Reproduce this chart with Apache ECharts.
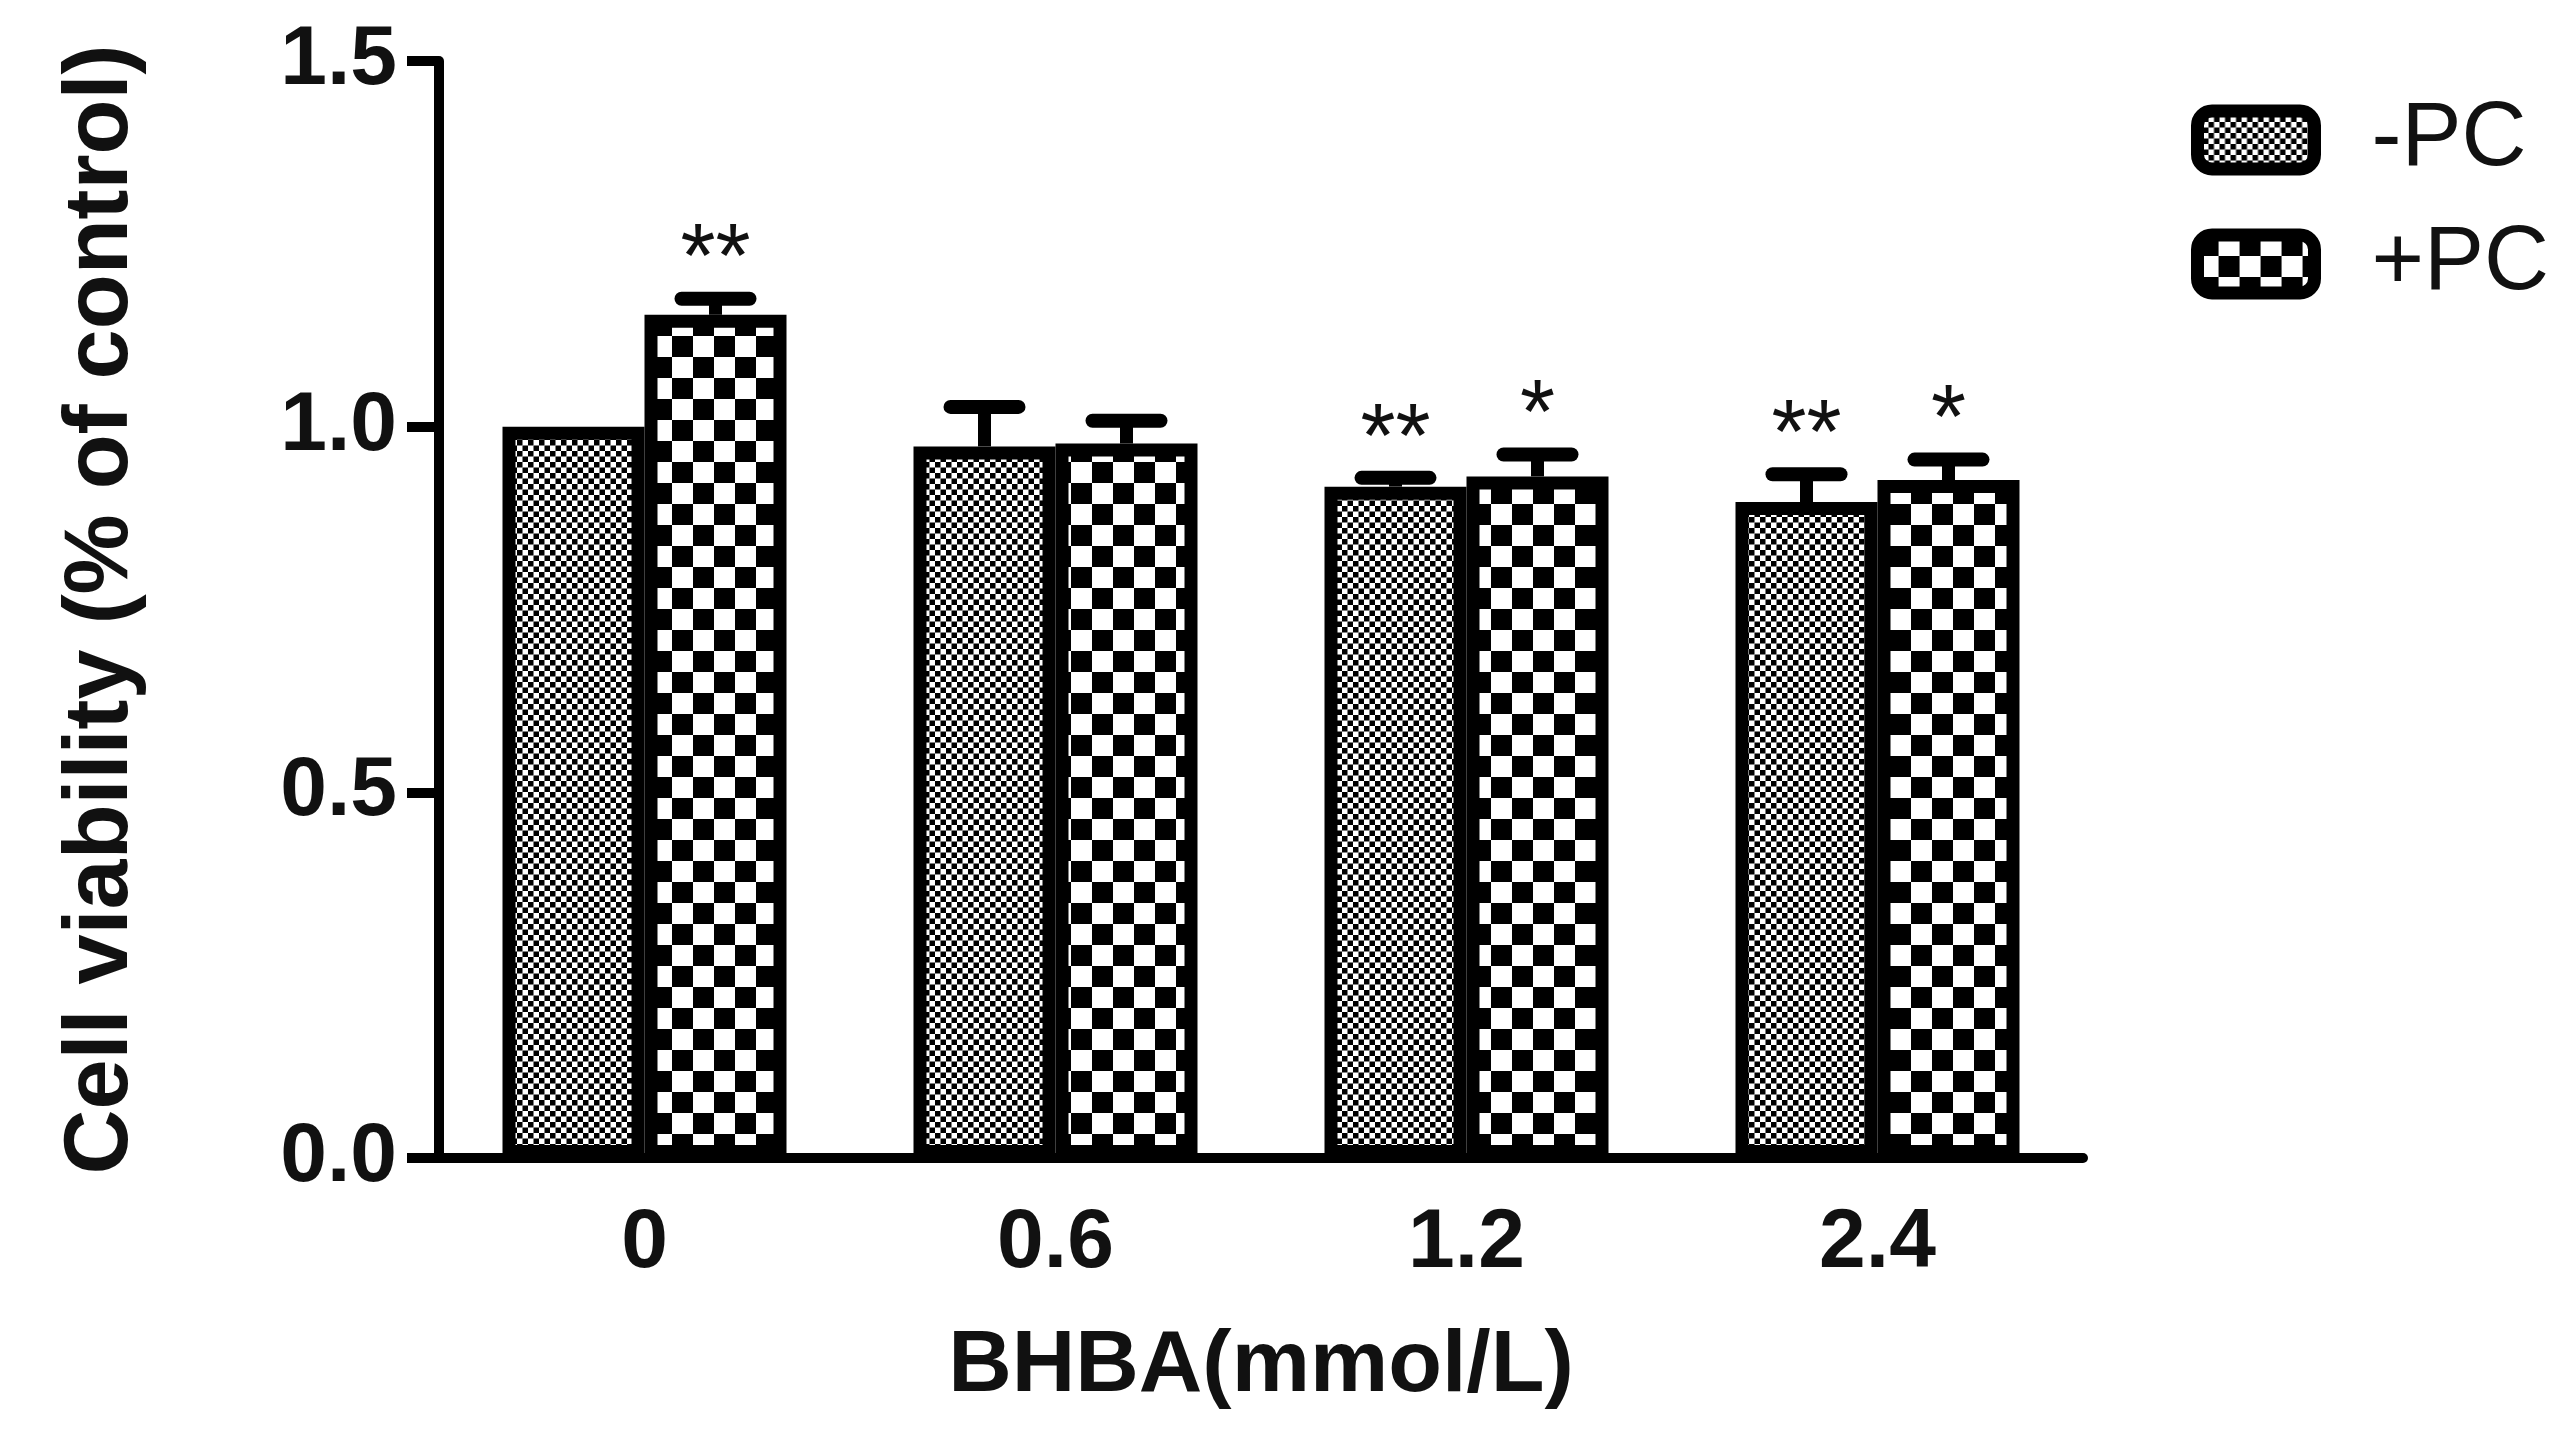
<!DOCTYPE html>
<html>
<head>
<meta charset="utf-8">
<script src="https://cdn.jsdelivr.net/npm/echarts@6/dist/echarts.min.js"></script>
<style>
html,body{margin:0;padding:0;background:#fff;}
#chart{width:2576px;height:1432px;}
</style>
</head>
<body>
<div id="chart"></div>
<script>
// ---- data ----
const categories = ['0', '0.6', '1.2', '2.4'];
const minusPC = [1.0, 0.973, 0.918, 0.897];
const minusPCErr = [0, 0.054, 0.012, 0.038];
const plusPC = [1.153, 0.977, 0.932, 0.927];
const plusPCErr = [0.022, 0.031, 0.030, 0.028];
const minusSig = ['', '', '**', '**'];
const plusSig = ['**', '', '*', '*'];
const yTicks = [0, 0.5, 1.0, 1.5];

// ---- styles ----
const FONT = 'Liberation Sans, Arial, sans-serif';
const BAR_W = 142;
const BORDER = 13;

function checker(cell) {
  const c = document.createElement('canvas');
  c.width = cell * 2; c.height = cell * 2;
  const ctx = c.getContext('2d');
  ctx.fillStyle = '#fff';
  ctx.fillRect(0, 0, cell * 2, cell * 2);
  ctx.fillStyle = '#000';
  ctx.fillRect(0, 0, cell, cell);
  ctx.fillRect(cell, cell, cell, cell);
  return c;
}
const fineFill = { image: checker(5.5), repeat: 'repeat' };
const coarseFill = { image: checker(21), repeat: 'repeat' };

function errSeries(name, vals, errs, sigs, side) {
  return {
    type: 'custom',
    name: name,
    z: 5,
    data: vals.map((v, i) => [i, v, errs[i]]),
    renderItem: function (params, api) {
      const i = api.value(0), v = api.value(1), e = api.value(2);
      const base = api.coord([i, v]);
      const top = api.coord([i, v + e]);
      const x = base[0] + side * BAR_W / 2;
      const children = [];
      if (e > 0) {
        children.push({
          type: 'line',
          shape: { x1: x, y1: base[1], x2: x, y2: top[1] },
          style: { stroke: '#000', lineWidth: 13 }
        });
        children.push({
          type: 'line',
          shape: { x1: x - 34, y1: top[1], x2: x + 34, y2: top[1] },
          style: { stroke: '#000', lineWidth: 14, lineCap: 'round' }
        });
      }
      const s = sigs[params.dataIndex];
      if (s) {
        children.push({
          type: 'text',
          style: {
            x: x, y: top[1] - 36, text: s,
            fill: '#111', font: 'normal 90px ' + FONT,
            align: 'center', verticalAlign: 'middle'
          }
        });
      }
      return { type: 'group', children: children };
    }
  };
}

const chart = echarts.init(document.getElementById('chart'), null, { renderer: 'canvas' });
chart.setOption({
  animation: false,
  backgroundColor: '#fff',
  grid: { left: 439, right: 493, top: 61, bottom: 274, containLabel: false },
  legend: {
    data: ['-PC', '+PC'],
    orient: 'vertical',
    left: 2186, top: 90,
    itemWidth: 117, itemHeight: 58, itemGap: 34,
    icon: 'roundRect',
    itemStyle: { borderColor: '#000', borderWidth: 13 },
    textStyle: { fontFamily: FONT, fontSize: 90, color: '#111', lineHeight: 90, padding: [0, 0, 0, 52] }
  },
  xAxis: {
    type: 'category',
    data: categories,
    name: 'BHBA(mmol/L)',
    nameLocation: 'middle',
    nameGap: 165,
    nameTextStyle: { fontFamily: FONT, fontSize: 88, fontWeight: 'bold', color: '#111' },
    axisLine: { lineStyle: { color: '#000', width: 10 } },
    axisTick: { alignWithLabel: true, length: 35, lineStyle: { color: '#000', width: 10 } },
    axisLabel: { fontFamily: FONT, fontSize: 84, fontWeight: 'bold', color: '#111', margin: 44 }
  },
  yAxis: {
    type: 'value',
    min: yTicks[0], max: yTicks[yTicks.length - 1], interval: 0.5,
    name: 'Cell viability (% of control)',
    nameLocation: 'middle',
    nameGap: 292,
    nameRotate: 90,
    nameTextStyle: { fontFamily: FONT, fontSize: 90, fontWeight: 'bold', color: '#111' },
    axisLine: { show: true, lineStyle: { color: '#000', width: 10 } },
    axisTick: { show: true, length: 32, lineStyle: { color: '#000', width: 10 } },
    splitLine: { show: false },
    axisLabel: {
      fontFamily: FONT, fontSize: 84, fontWeight: 'bold', color: '#111', margin: 42,
      formatter: v => v.toFixed(1)
    }
  },
  series: [
    {
      type: 'bar', name: '-PC', data: minusPC, barWidth: BAR_W, barGap: '0%',
      itemStyle: { color: fineFill, borderColor: '#000', borderWidth: BORDER }
    },
    {
      type: 'bar', name: '+PC', data: plusPC, barWidth: BAR_W, barGap: '0%',
      itemStyle: { color: coarseFill, borderColor: '#000', borderWidth: BORDER }
    },
    errSeries('err-', minusPC, minusPCErr, minusSig, -1),
    errSeries('err+', plusPC, plusPCErr, plusSig, 1)
  ]
});
</script>
</body>
</html>
